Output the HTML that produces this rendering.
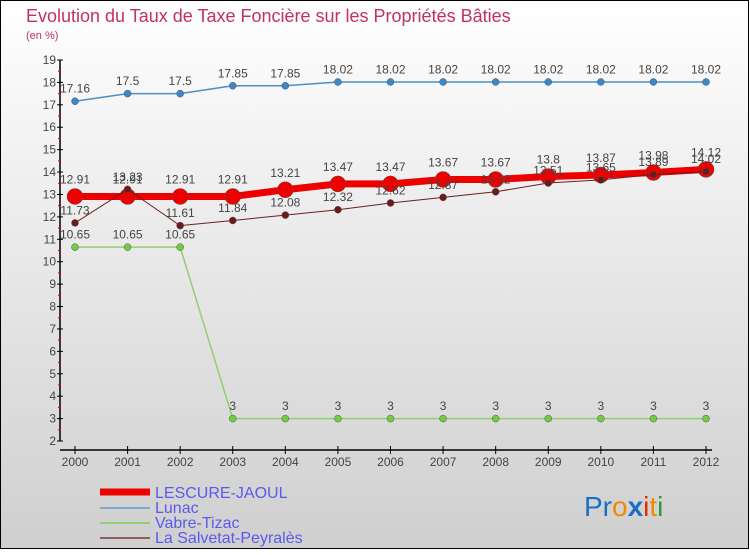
<!DOCTYPE html>
<html><head><meta charset="utf-8"><style>
html,body{margin:0;padding:0}
body{width:750px;height:550px;overflow:hidden;font-family:"Liberation Sans",sans-serif}
</style></head><body>
<svg width="750" height="550" viewBox="0 0 750 550" xmlns="http://www.w3.org/2000/svg" font-family="Liberation Sans, sans-serif">
<defs><linearGradient id="bg" x1="0" y1="0" x2="0" y2="1"><stop offset="0" stop-color="#ffffff"/><stop offset="1" stop-color="#cfcfcf"/></linearGradient></defs>
<rect x="0.5" y="0.5" width="748" height="548" fill="url(#bg)" stroke="#000"/>
<text x="26" y="22" font-size="18" fill="#c0306a">Evolution du Taux de Taxe Foncière sur les Propriétés Bâties</text>
<text x="26" y="39" font-size="11" fill="#c0306a">(en %)</text>
<g id="axes"></g><g id="series"></g>
<g>
<line x1="100" y1="492" x2="150" y2="492" stroke="#ee0000" stroke-width="7"/>
<text x="155" y="498" font-size="16" fill="#5a5aee">LESCURE-JAOUL</text>
<line x1="100" y1="508" x2="150" y2="508" stroke="#7aaad0" stroke-width="2"/>
<text x="155" y="513" font-size="16" fill="#5a5aee">Lunac</text>
<line x1="100" y1="523" x2="150" y2="523" stroke="#90d070" stroke-width="2"/>
<text x="155" y="528" font-size="16" fill="#5a5aee">Vabre-Tizac</text>
<line x1="100" y1="538" x2="150" y2="538" stroke="#8a6060" stroke-width="2"/>
<text x="155" y="543" font-size="16" fill="#5a5aee">La Salvetat-Peyralès</text>
</g>
<text x="584" y="516" font-size="28"><tspan fill="#1a6fc4">Pr</tspan><tspan fill="#f08a00">o</tspan><tspan fill="#1a6fc4" font-weight="bold">x</tspan><tspan fill="#e03000">i</tspan><tspan fill="#f08a00">t</tspan><tspan fill="#2a9a40">i</tspan></text>
</svg>
<script>
const years=[2000,2001,2002,2003,2004,2005,2006,2007,2008,2009,2010,2011,2012];
const lescure=[12.91,12.91,12.91,12.91,13.21,13.47,13.47,13.67,13.67,13.8,13.87,13.98,14.12];
const lunac=[17.16,17.5,17.5,17.85,17.85,18.02,18.02,18.02,18.02,18.02,18.02,18.02,18.02];
const vabre=[10.65,10.65,10.65,3,3,3,3,3,3,3,3,3,3];
const salvetat=[11.73,13.23,11.61,11.84,12.08,12.32,12.62,12.87,13.12,13.51,13.65,13.89,14.02];
const yTicks=[2,3,4,5,6,7,8,9,10,11,12,13,14,15,16,17,18,19];
const NS="http://www.w3.org/2000/svg";
function X(i){return 75+i*(706-75)/(years.length-1);}
function Y(v){return 441-(v-2)*(381/17);}
function mk(t,a,p){const e=document.createElementNS(NS,t);for(const k in a)e.setAttribute(k,a[k]);p.appendChild(e);return e;}
const ax=document.getElementById('axes');
const ya=mk('line',{x1:60,y1:Y(19),x2:60,y2:Y(2),stroke:'#000','stroke-width':1.5},ax);


yTicks.forEach(v=>{
 const t=mk('line',{x1:57,y1:Y(v),x2:63,y2:Y(v),stroke:'#000'},ax);
 
 
 if(v<19){const m=mk('line',{x1:58,y1:Y(v+0.5),x2:61,y2:Y(v+0.5),stroke:'#e00000'},ax);
 
 }
 const l=mk('text',{x:56,y:Y(v)+4,'font-size':12,fill:'#444','text-anchor':'end'},ax);l.textContent=v;
 
 
});
const xa=mk('line',{x1:60,y1:450,x2:712,y2:450,stroke:'#000','stroke-width':1.5},ax);


years.forEach((y,i)=>{
 const t=mk('line',{x1:X(i),y1:446,x2:X(i),y2:454,stroke:'#000'},ax);
 
 
 const l=mk('text',{x:X(i),y:466,'font-size':12,fill:'#444','text-anchor':'middle'},ax);l.textContent=y;
 
 
});
const sg=document.getElementById('series');
function series(name,vals,color,w,r,dot){
 const g=mk('g',{},sg);
 
 
 const pl=mk('polyline',{points:vals.map((v,i)=>X(i)+','+Y(v)).join(' '),fill:'none',stroke:color,'stroke-width':w},g);
 
 
 vals.forEach((v,i)=>{
  const c=mk('circle',{cx:X(i),cy:Y(v),r:r,fill:dot,stroke:'#555','stroke-width':0.5},g);
  
  
  const t=mk('text',{x:X(i),y:Y(v)-r-5,'font-size':12,fill:'#444','text-anchor':'middle'},g);t.textContent=v;
  
  
 });
}
series('lunac',lunac,'#4a90c8',1.5,3.5,'#3a88c8');
series('vabre',vabre,'#90d070',1.5,3.5,'#70cc40');
series('lescure',lescure,'#ee0000',7,8,'#ee0000');
series('salvetat',salvetat,'#6a2020',1,3.5,'#6a1a1a');
</script>
</body></html>
